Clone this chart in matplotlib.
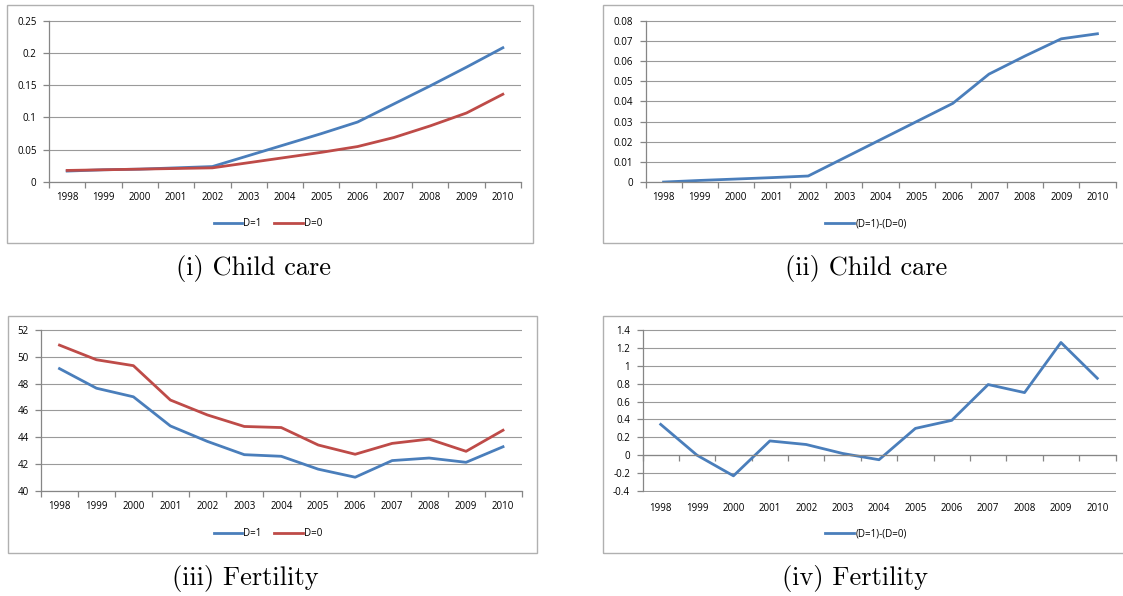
import matplotlib
matplotlib.use('Agg')
import matplotlib.pyplot as plt
from matplotlib.patches import Rectangle
from matplotlib.ticker import FuncFormatter

years = ['1998', '1999', '2000', '2001', '2002', '2003', '2004',
         '2005', '2006', '2007', '2008', '2009', '2010']

# child care
care_d1 = [0.017, 0.019, 0.020, 0.022, 0.024, 0.041, 0.058, 0.075, 0.093, 0.121, 0.149, 0.178, 0.208]
care_d0 = [0.018, 0.019, 0.020, 0.021, 0.022, 0.030, 0.038, 0.046, 0.055, 0.069, 0.087, 0.107, 0.136]
care_diff = [0.0, 0.0008, 0.0015, 0.0022, 0.003, 0.012, 0.021, 0.030, 0.039, 0.0535, 0.0625, 0.071, 0.0735]

# fertility
fert_d1 = [49.12, 47.66, 47.02, 44.85, 43.70, 42.71, 42.59, 41.63, 41.03, 42.27, 42.46, 42.14, 43.30]
fert_d0 = [50.87, 49.78, 49.34, 46.78, 45.67, 44.81, 44.73, 43.43, 42.74, 43.55, 43.87, 42.96, 44.53]
fert_diff = [0.345, 0.0, -0.23, 0.16, 0.12, 0.02, -0.05, 0.30, 0.39, 0.79, 0.70, 1.26, 0.86]

captions = ['(i) Child care', '(ii) Child care', '(iii) Fertility', '(iv) Fertility']

BLUE = '#4a7ebb'
RED = '#be4b48'
GRID = '#9a9a9a'
AXC = '#868686'
TICKFONT = 'Open Sans'

W, H = 1123, 596
fig = plt.figure(figsize=(W / 100, H / 100), dpi=100)


def px_axes(l, t, r, b):
    return fig.add_axes([l / W, 1 - b / H, (r - l) / W, (b - t) / H])


def frame(l, t, r, b):
    fig.add_artist(Rectangle((l / W, 1 - b / H), (r - l) / W, (b - t) / H,
                             transform=fig.transFigure, fill=False,
                             edgecolor='#b0b0b0', lw=1.0))


def fmt(v, pos):
    v = round(v, 6)
    if v == 0:
        return '0'
    return f'{v:g}'


def style(ax, ylim, step, zero_axis=False):
    n = len(years)
    ax.set_xlim(-0.5, n - 0.5)
    pad = (ylim[1] - ylim[0]) * 0.004
    ax.set_ylim(ylim[0] - pad, ylim[1] + pad)
    ticks = []
    v = ylim[0]
    while v <= ylim[1] + 1e-9:
        ticks.append(round(v, 6))
        v += step
    ax.set_yticks(ticks)
    ax.yaxis.set_major_formatter(FuncFormatter(fmt))
    ax.grid(axis='y', color=GRID, lw=0.8)
    ax.set_axisbelow(True)
    for s in ['top', 'right']:
        ax.spines[s].set_visible(False)
    for s in ['left', 'bottom']:
        ax.spines[s].set_color(AXC)
        ax.spines[s].set_linewidth(0.9)
    ax.spines['left'].set_bounds(ylim[0], ylim[1])
    ax.set_xticks(range(n))
    ax.set_xticks([i - 0.5 for i in range(n + 1)], minor=True)
    ax.tick_params(axis='x', which='major', length=0, pad=7)
    ax.tick_params(axis='x', which='minor', length=4, color=AXC, width=0.9)
    ax.tick_params(axis='y', length=4, color=AXC, width=0.9, pad=5)
    if zero_axis:
        ax.spines['bottom'].set_position(('data', 0))
        ax.set_xticklabels([])
        sec = ax.secondary_xaxis('bottom')
        sec.set_xticks(range(n))
        sec.set_xticklabels(years, fontsize=7, family=TICKFONT)
        sec.tick_params(length=0, pad=8)
        sec.spines['bottom'].set_visible(False)
    else:
        ax.spines['bottom'].set_position(('data', ylim[0]))
        ax.set_xticklabels(years)
    for lab in ax.get_xticklabels() + ax.get_yticklabels():
        lab.set_fontsize(7)
        lab.set_family(TICKFONT)


def add_legend(ax, cx, cy, ncol):
    ax.legend(loc='center', bbox_to_anchor=(cx / W, 1 - cy / H), bbox_transform=fig.transFigure,
              ncol=ncol, frameon=False, prop={'family': TICKFONT, 'size': 7},
              handlelength=2.9, handletextpad=0.15, columnspacing=1.3)


x = range(len(years))

# panel (i)
frame(7, 5, 533, 243)
ax1 = px_axes(49, 20, 521, 182.7)
ax1.plot(x, care_d1, color=BLUE, lw=2.0, label='D=1')
ax1.plot(x, care_d0, color=RED, lw=2.0, label='D=0')
style(ax1, (0, 0.25), 0.05)
add_legend(ax1, 268, 224, 2)

# panel (ii)
frame(603, 5, 1135, 243)
ax2 = px_axes(645.5, 20, 1115.5, 182.7)
ax2.plot(x, care_diff, color=BLUE, lw=2.0, label='(D=1)-(D=0)')
style(ax2, (0, 0.08), 0.01)
add_legend(ax2, 866, 224, 1)

# panel (iii)
frame(8, 315.7, 537, 553)
ax3 = px_axes(41, 329.3, 521.5, 491.7)
ax3.plot(x, fert_d1, color=BLUE, lw=2.0, label='D=1')
ax3.plot(x, fert_d0, color=RED, lw=2.0, label='D=0')
style(ax3, (40, 52), 2)
add_legend(ax3, 268, 534, 2)

# panel (iv)
frame(603, 315.7, 1135, 553)
ax4 = px_axes(642.5, 329.3, 1115.5, 491.7)
ax4.plot(x, fert_diff, color=BLUE, lw=2.0, label='(D=1)-(D=0)')
style(ax4, (-0.4, 1.4), 0.2, zero_axis=True)
add_legend(ax4, 866, 534, 1)

# captions
cap_pos = [(253, 268), (866, 268), (245, 578), (855, 578)]
for (cx, cy), txt in zip(cap_pos, captions):
    fig.text(cx / W, 1 - cy / H, txt, ha='center', va='center', fontsize=19, family='cmr10')

fig.savefig('out.png', dpi=100)
